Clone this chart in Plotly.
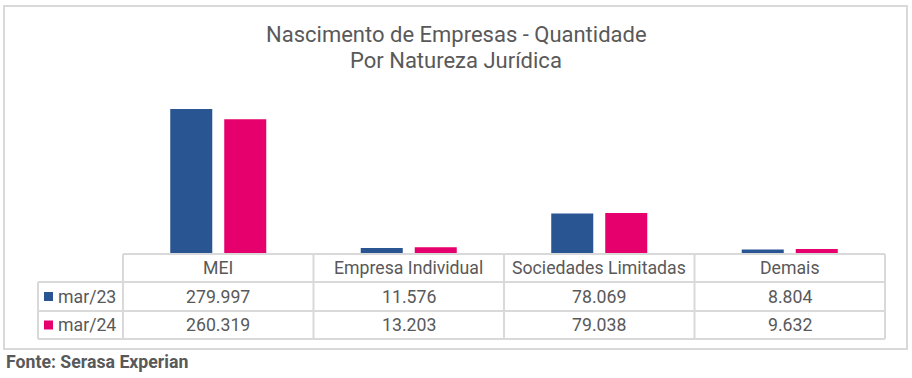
import plotly.graph_objects as go

W, H = 912, 378

categories = ["MEI", "Empresa Individual", "Sociedades Limitadas", "Demais"]
series_names = ["mar/23", "mar/24"]
values_mar23 = [279997, 11576, 78069, 8804]
values_mar24 = [260319, 13203, 79038, 9632]
colors = ["#2A5593", "#E6006E"]

title_line1 = "Nascimento de Empresas - Quantidade"
title_line2 = "Por Natureza Jurídica"
source_text = "Fonte: Serasa Experian"

TXT = "#595959"
GRID = "#D9D9D9"
FONT = "Roboto"
TSIZE = 17.7

def px(x):
    return x / W

def py(y):
    return 1 - y / H

# layout geometry (pixels)
plot_left, plot_right = 123, 885
axis_y, plot_top = 254, 98.6
row_lines = [254, 282, 311, 339]
legend_left = 38

fig = go.Figure()
for name, vals, col in zip(series_names, [values_mar23, values_mar24], colors):
    fig.add_trace(go.Bar(x=categories, y=vals, name=name, marker=dict(color=col, line=dict(width=0)),
                         hoverinfo="x+y+name"))

shapes = []
def line(x0, y0, x1, y1, w=2):
    shapes.append(dict(type="line", xref="paper", yref="paper", x0=px(x0), y0=py(y0), x1=px(x1), y1=py(y1),
                       line=dict(color=GRID, width=w)))

# outer border
shapes.append(dict(type="rect", xref="paper", yref="paper", x0=px(4), y0=py(349), x1=px(907), y1=py(6),
                   line=dict(color=GRID, width=2), fillcolor="rgba(0,0,0,0)"))

# table grid
ncat = len(categories)
col_w = (plot_right - plot_left) / ncat
line(plot_left, row_lines[0], plot_right, row_lines[0])
for r in row_lines[1:]:
    line(legend_left, r, plot_right, r)
for i in range(ncat + 1):
    xx = plot_left + i * col_w
    line(xx, row_lines[0], xx, row_lines[-1])
line(legend_left, row_lines[1], legend_left, row_lines[-1])

annotations = [
    dict(text=title_line1, x=0.5, y=py(35), xref="paper", yref="paper", showarrow=False,
         font=dict(size=22, color=TXT, family=FONT), xanchor="center", yanchor="middle"),
    dict(text=title_line2, x=0.5, y=py(60), xref="paper", yref="paper", showarrow=False,
         font=dict(size=22, color=TXT, family=FONT), xanchor="center", yanchor="middle"),
    dict(text="<b>" + source_text + "</b>", x=px(4), y=py(362), xref="paper", yref="paper", showarrow=False,
         font=dict(size=TSIZE, color=TXT, family=FONT), xanchor="left", yanchor="middle"),
]

def fmt(v):
    return f"{v:,}".replace(",", ".")

# header
for c in categories:
    annotations.append(dict(text=c, x=c, y=py((row_lines[0] + row_lines[1]) / 2), xref="x", yref="paper",
                            showarrow=False, font=dict(size=TSIZE, color=TXT, family=FONT),
                            xanchor="center", yanchor="middle"))
# rows
for ri, (name, vals, col) in enumerate(zip(series_names, [values_mar23, values_mar24], colors)):
    yc = (row_lines[ri + 1] + row_lines[ri + 2]) / 2
    for c, v in zip(categories, vals):
        annotations.append(dict(text=fmt(v), x=c, y=py(yc), xref="x", yref="paper", showarrow=False,
                                font=dict(size=TSIZE, color=TXT, family=FONT), xanchor="center", yanchor="middle"))
    shapes.append(dict(type="rect", xref="paper", yref="paper", x0=px(44), x1=px(53),
                       y0=py(yc + 4.5), y1=py(yc - 4.5), fillcolor=col, line=dict(width=0)))
    annotations.append(dict(text=name, x=px(56), y=py(yc), xref="paper", yref="paper", showarrow=False,
                            font=dict(size=TSIZE, color=TXT, family=FONT), xanchor="left", yanchor="middle"))

fig.update_layout(
    width=W, height=H, margin=dict(l=0, r=0, t=0, b=0),
    paper_bgcolor="white", plot_bgcolor="white",
    showlegend=False,
    barmode="group", bargap=0.433, bargroupgap=0.222,
    xaxis=dict(type="category", domain=[px(plot_left), px(plot_right)], range=[-0.5, ncat - 0.5],
               showticklabels=False, showgrid=False, zeroline=False, showline=False, ticks=""),
    yaxis=dict(domain=[py(axis_y), py(plot_top)], range=[0, 300000], visible=False, showgrid=False,
               zeroline=False),
    shapes=shapes, annotations=annotations,
)

fig.write_html("out.html", config={"displayModeBar": False},
               post_script="document.body.style.margin='0';")
